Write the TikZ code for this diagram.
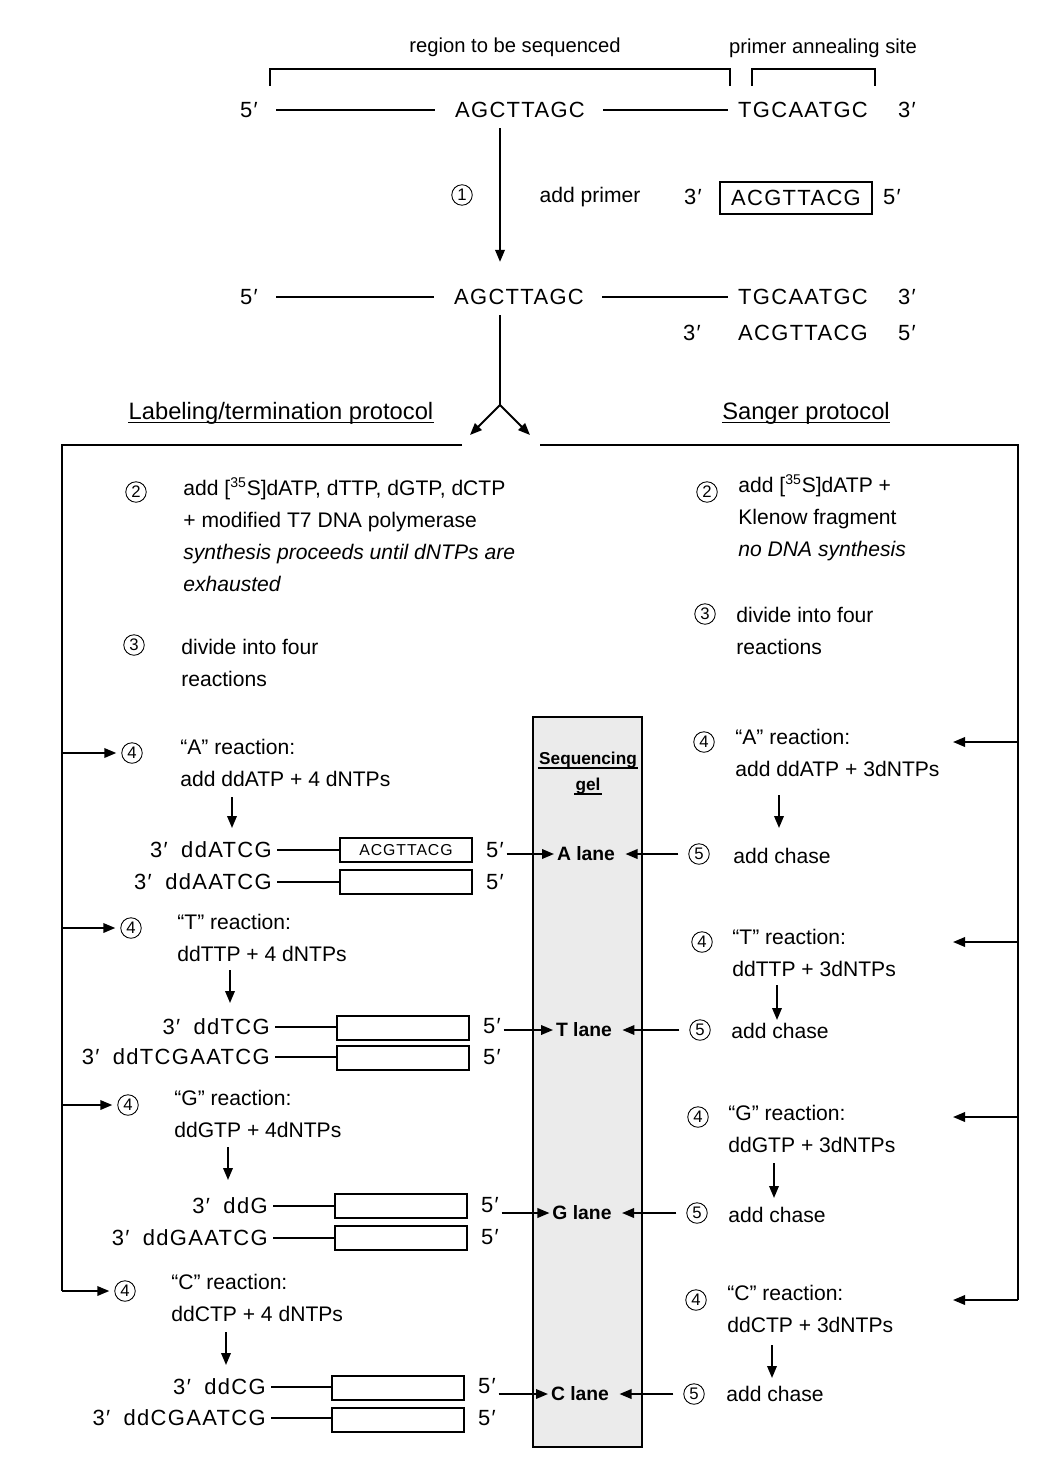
\documentclass[tikz,border=0pt]{standalone}
\usepackage{fontspec}
\setmainfont{Liberation Sans}
\newfontfamily\seqfont[LetterSpace=6]{Liberation Sans}
\usetikzlibrary{arrows.meta,positioning,calc}

\begin{document}
\begin{tikzpicture}[x=0.2mm, y=-0.2mm,
  txt/.style={anchor=west, align=left, inner sep=0pt, font=\fontsize{12}{18.2}\selectfont},
  small/.style={inner sep=0pt, font=\fontsize{11.5}{14}\selectfont},
  seq/.style={inner sep=0pt, font=\seqfont\fontsize{12.5}{15}\selectfont},
  prod/.style={seq, anchor=east},
  num/.style={circle, draw, line width=0.5pt, minimum size=4.1mm, inner sep=0pt, font=\fontsize{9.5}{10}\selectfont},
  primbox/.style={draw, line width=0.8pt, minimum width=26.4mm, minimum height=4.8mm, inner sep=0pt, font=\seqfont\fontsize{9}{10}\selectfont},
  lane/.style={inner sep=1.5pt, font=\bfseries\fontsize{11}{12}\selectfont},
  gelhead/.style={inner sep=0.5pt, font=\bfseries\fontsize{9.8}{12}\selectfont},
  head/.style={inner sep=0pt, font=\fontsize{13.5}{15}\selectfont},
  arr/.style={-{Triangle[length=2.4mm,width=1.9mm]}, line width=1.1pt},
  frameline/.style={line width=1.4pt},
  strand/.style={line width=0.8pt}]
  \useasboundingbox (0,0) rectangle (1046,1473);

  % template strand with brackets
  \node[small] (regl) at (515,47) {region to be sequenced};
  \node[small] (priml) at (823,48) {primer annealing site};
  \draw[strand] (270,86) |- (730,69) -- (730,86);
  \draw[strand] (752,86) |- (875,69) -- (875,86);
  \node[seq] (t5) at (249,110) {5′};
  \node[seq] (tseq) at (520,110) {AGCTTAGC};
  \node[seq] (tprim) at (803,110) {TGCAATGC};
  \node[seq] (t3) at (907,110) {3′};
  \draw[strand, shorten <=3.6mm, shorten >=4mm] (t5) -- (tseq);
  \draw[strand, shorten <=3.6mm, shorten >=2mm] (tseq) -- (tprim);

  % step 1: primer
  \coordinate (split) at (500,405);
  \node[num] (n1) at (462,195) {1};
  \node[txt, anchor=center] (addp) at (590,197) {add primer};
  \node[seq] (p3) at (693,197) {3′};
  \node[seq, draw, line width=0.8pt, minimum width=30.4mm, minimum height=6.4mm] (pbox) at (796,198) {ACGTTACG};
  \node[seq] (p5) at (892,197) {5′};

  % annealed primer
  \node[seq] (m5) at (249,297) {5′};
  \node[seq] (mseq) at (519,297) {AGCTTAGC};
  \node[seq] (mprim) at (803,297) {TGCAATGC};
  \node[seq] (m3) at (907,297) {3′};
  \draw[strand, shorten <=3.6mm, shorten >=4mm] (m5) -- (mseq);
  \draw[strand, shorten <=3.6mm, shorten >=2mm] (mseq) -- (mprim);
  \node[seq] (b3) at (692,333) {3′};
  \node[seq] (bprim) at (803,333) {ACGTTACG};
  \node[seq] (b5) at (907,333) {5′};
  \draw[arr, shorten <=2mm, shorten >=5.4mm] (tseq.south -| split) -- (mseq.north -| split);

  % split into the two protocols
  \coordinate (splitL) at (470,435);
  \coordinate (splitR) at (530,435);
  \draw[frameline, shorten <=2mm] (mseq.south -| split) -- (split);
  \draw[arr] (split) -- (splitL);
  \draw[arr] (split) -- (splitR);
  \node[head] (hlab) at (281,413) {Labeling/termination protocol};
  \draw[strand] ([yshift=-2pt]hlab.base west) -- ([yshift=-2pt]hlab.base east);
  \node[head] (hsan) at (806,413) {Sanger protocol};
  \draw[strand] ([yshift=-2pt]hsan.base west) -- ([yshift=-2pt]hsan.base east);

  % frame
  \coordinate (frL) at (462,445);
  \coordinate (frR) at (540,445);
  \coordinate (frLC) at (62,1291);
  \coordinate (frRC) at (1018,1300);
  \coordinate (rtip) at (953,0);
  \draw[frameline] (frL) -| (frLC);
  \draw[frameline] (frR) -| (frRC);

  % sequencing gel
  \draw[line width=0.8pt, fill=black!8] (533,717) rectangle (642,1447);
  \node[gelhead] (gelh1) at (588,760) {Sequencing};
  \draw[strand] ([yshift=-2pt]gelh1.base west) -- ([yshift=-2pt]gelh1.base east);
  \node[gelhead] (gelh2) at (588,786) {gel};
  \draw[strand] ([yshift=-2pt]gelh2.base west) -- ([yshift=-2pt]gelh2.base east);

  % labeling/termination: steps 2 and 3
  \node[num] (l2) at (136,492) {2};
  \node[txt] (l2t) at (183,534.5) {add [\textsuperscript{35}S]dATP, dTTP, dGTP, dCTP\\+ modified T7 DNA polymerase\\\textit{synthesis proceeds until dNTPs are}\\\textit{exhausted}};
  \node[num] (l3) at (134,645) {3};
  \node[txt] (l3t) at (181,662.5) {divide into four\\reactions};

  % Sanger: steps 2 and 3
  \node[num] (r2) at (707,492) {2};
  \node[txt] (r2t) at (738,518) {add [\textsuperscript{35}S]dATP +\\Klenow fragment\\\textit{no DNA synthesis}};
  \node[num] (r3) at (705,614) {3};
  \node[txt] (r3t) at (736,631) {divide into four\\reactions};

  % A reaction
  \node[num] (l4A) at (132,753) {4};
  \node[txt] (lrA) at (180,762.5) {``A'' reaction:\\add ddATP + 4 dNTPs};
  \draw[arr, shorten >=1mm] (l4A -| frLC) -- (l4A);
  \draw[arr] ([shift={(52,34.5)}]lrA.west) -- ++(0,31);
  \node[prod] (pA1) at (272,850) {3′\hspace{1.2mm} ddATCG};
  \node[primbox] (bA1) at (406,850) {ACGTTACG};
  \node[seq] (fA1) at (495,850) {5′};
  \node[prod] (pA2) at (272,882) {3′\hspace{1.2mm} ddAATCG};
  \node[primbox] (bA2) at (406,882) {};
  \node[seq] (fA2) at (495,882) {5′};
  \draw[strand, shorten <=1mm] (pA1) -- (pA1 -| bA1.west);
  \draw[strand, shorten <=1mm] (pA2) -- (pA2 -| bA2.west);
  \node[lane] (laneA) at (586,854) {A lane};
  \node[num] (r4A) at (704,742) {4};
  \node[txt] (rrA) at (735,752.5) {``A'' reaction:\\add ddATP + 3dNTPs};
  \draw[arr] (r4A -| frRC) -- (r4A -| rtip);
  \draw[arr] ([shift={(44,42.5)}]rrA.west) -- ++(0,33);
  \node[num] (c5A) at (699,854) {5};
  \node[txt] (chA) at (733,856) {add chase};
  \draw[arr, shorten <=0.5mm] (fA1.east |- laneA) -- (laneA);
  \draw[arr, shorten <=2mm, shorten >=1.5mm] (c5A) -- (laneA);

  % T reaction
  \node[num] (l4T) at (131,928) {4};
  \node[txt] (lrT) at (177,937.5) {``T'' reaction:\\ddTTP + 4 dNTPs};
  \draw[arr, shorten >=1mm] (l4T -| frLC) -- (l4T);
  \draw[arr] ([shift={(53,32.5)}]lrT.west) -- ++(0,33);
  \node[prod] (pT1) at (270,1027) {3′\hspace{1.2mm} ddTCG};
  \node[primbox] (bT1) at (403,1028) {};
  \node[seq] (fT1) at (492,1026) {5′};
  \node[prod] (pT2) at (270,1057) {3′\hspace{1.2mm} ddTCGAATCG};
  \node[primbox] (bT2) at (403,1058) {};
  \node[seq] (fT2) at (492,1057) {5′};
  \draw[strand, shorten <=1mm] (pT1) -- (pT1 -| bT1.west);
  \draw[strand, shorten <=1mm] (pT2) -- (pT2 -| bT2.west);
  \node[lane] (laneT) at (584,1030) {T lane};
  \node[num] (r4T) at (702,942) {4};
  \node[txt] (rrT) at (732,952.5) {``T'' reaction:\\ddTTP + 3dNTPs};
  \draw[arr] (r4T -| frRC) -- (r4T -| rtip);
  \draw[arr] ([shift={(45,32.5)}]rrT.west) -- ++(0,35);
  \node[num] (c5T) at (700,1030) {5};
  \node[txt] (chT) at (731,1031) {add chase};
  \draw[arr, shorten <=0.5mm] (fT1.east |- laneT) -- (laneT);
  \draw[arr, shorten <=2mm, shorten >=1.5mm] (c5T) -- (laneT);

  % G reaction
  \node[num] (l4G) at (128,1105) {4};
  \node[txt] (lrG) at (174,1114) {``G'' reaction:\\ddGTP + 4dNTPs};
  \draw[arr, shorten >=1mm] (l4G -| frLC) -- (l4G);
  \draw[arr] ([shift={(54,33)}]lrG.west) -- ++(0,33);
  \node[prod] (pG1) at (268,1206) {3′\hspace{1.2mm} ddG};
  \node[primbox] (bG1) at (401,1206) {};
  \node[seq] (fG1) at (490,1205) {5′};
  \node[prod] (pG2) at (268,1238) {3′\hspace{1.2mm} ddGAATCG};
  \node[primbox] (bG2) at (401,1238) {};
  \node[seq] (fG2) at (490,1237) {5′};
  \draw[strand, shorten <=1mm] (pG1) -- (pG1 -| bG1.west);
  \draw[strand, shorten <=1mm] (pG2) -- (pG2 -| bG2.west);
  \node[lane] (laneG) at (582,1213) {G lane};
  \node[num] (r4G) at (698,1117) {4};
  \node[txt] (rrG) at (728,1128.5) {``G'' reaction:\\ddGTP + 3dNTPs};
  \draw[arr] (r4G -| frRC) -- (r4G -| rtip);
  \draw[arr] ([shift={(46,34.5)}]rrG.west) -- ++(0,35);
  \node[num] (c5G) at (697,1213) {5};
  \node[txt] (chG) at (728,1215) {add chase};
  \draw[arr, shorten <=0.5mm] (fG1.east |- laneG) -- (laneG);
  \draw[arr, shorten <=2mm, shorten >=1.5mm] (c5G) -- (laneG);

  % C reaction
  \node[num] (l4C) at (125,1291) {4};
  \node[txt] (lrC) at (171,1298) {``C'' reaction:\\ddCTP + 4 dNTPs};
  \draw[arr, shorten >=1mm] (frLC) -- (l4C);
  \draw[arr] ([shift={(55,34)}]lrC.west) -- ++(0,33);
  \node[prod] (pC1) at (266,1387) {3′\hspace{1.2mm} ddCG};
  \node[primbox] (bC1) at (398,1388) {};
  \node[seq] (fC1) at (487,1386) {5′};
  \node[prod] (pC2) at (266,1418) {3′\hspace{1.2mm} ddCGAATCG};
  \node[primbox] (bC2) at (398,1420) {};
  \node[seq] (fC2) at (487,1418) {5′};
  \draw[strand, shorten <=1mm] (pC1) -- (pC1 -| bC1.west);
  \draw[strand, shorten <=1mm] (pC2) -- (pC2 -| bC2.west);
  \node[lane] (laneC) at (580,1394) {C lane};
  \node[num] (r4C) at (696,1300) {4};
  \node[txt] (rrC) at (727,1309) {``C'' reaction:\\ddCTP + 3dNTPs};
  \draw[arr] (frRC) -- (r4C -| rtip);
  \draw[arr] ([shift={(45,36)}]rrC.west) -- ++(0,33);
  \node[num] (c5C) at (694,1394) {5};
  \node[txt] (chC) at (726,1394) {add chase};
  \draw[arr, shorten <=0.5mm] (fC1.east |- laneC) -- (laneC);
  \draw[arr, shorten <=2mm, shorten >=1.5mm] (c5C) -- (laneC);
\end{tikzpicture}
\end{document}
